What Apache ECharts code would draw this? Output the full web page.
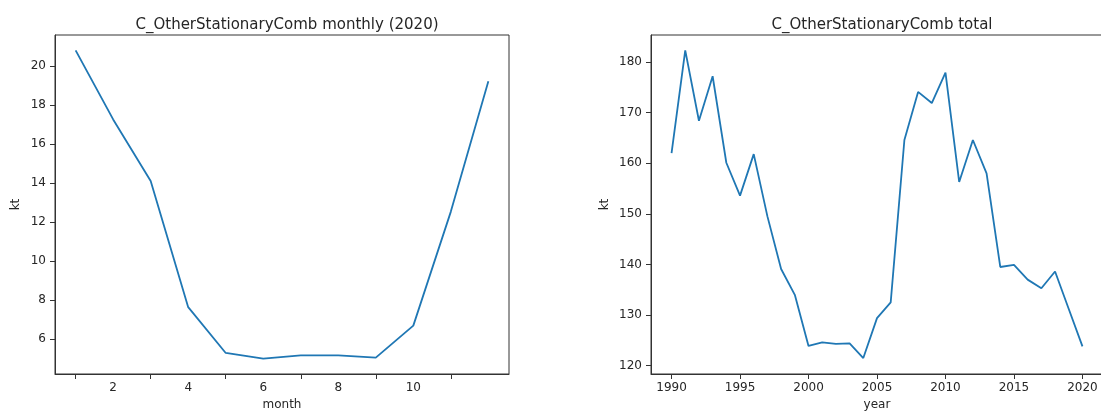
<!DOCTYPE html>
<html>
<head>
<meta charset="utf-8">
<script src="https://cdn.jsdelivr.net/npm/echarts@6/dist/echarts.min.js"></script>
<style>
html,body{margin:0;padding:0;background:#fff;}
#c{width:1101px;height:411px;}
</style>
</head>
<body>
<div id="c"></div>
<script>
// ---- data ----
const months = [1,2,3,4,5,6,7,8,9,10,11,12];
const monthlyKt = [20.80,17.26,14.10,7.63,5.28,4.99,5.16,5.16,5.04,6.68,12.53,19.22];
const years = [1990,1991,1992,1993,1994,1995,1996,1997,1998,1999,2000,2001,2002,2003,2004,2005,2006,2007,2008,2009,2010,2011,2012,2013,2014,2015,2016,2017,2018,2019,2020];
const totalKt = [162.0,182.3,168.4,177.2,160.1,153.6,161.8,149.5,139.1,134.0,123.9,124.6,124.3,124.4,121.5,129.4,132.5,164.6,174.1,171.9,177.9,156.3,164.6,158.0,139.5,139.9,137.0,135.3,138.6,131.2,123.8];
const monthTickMarks = [1,3,5,7,9,11];
const monthTickLabels = [2,4,6,8,10];
const monthlyYTicks = [6,8,10,12,14,16,18,20];
const yearTicks = [1990,1995,2000,2005,2010,2015,2020];
const totalYTicks = [120,130,140,150,160,170,180];

const FONT = 'DejaVu Sans';
const TXT = '#262626';
const AX = '#333';

function xAxisCfg(gridIndex, min, max, tickVals, labelVals, name) {
  return {
    type: 'value', gridIndex, min, max, name,
    nameLocation: 'middle', nameGap: 25,
    nameTextStyle: {fontFamily: FONT, fontSize: 12, color: TXT},
    axisLine: {show: true, onZero: false, lineStyle: {color: AX, width: 1}},
    axisTick: {show: true, inside: false, length: 5, customValues: tickVals, lineStyle: {color: AX, width: 1}},
    axisLabel: {customValues: labelVals, margin: 8, fontFamily: FONT, fontSize: 12, color: TXT,
                formatter: v => String(v)},
    splitLine: {show: false}
  };
}
function yAxisCfg(gridIndex, min, max, vals, gap) {
  return {
    type: 'value', gridIndex, min, max, name: 'kt',
    nameLocation: 'middle', nameGap: gap, nameRotate: 90,
    nameTextStyle: {fontFamily: FONT, fontSize: 12, color: TXT},
    axisLine: {show: true, lineStyle: {color: AX, width: 1}},
    axisTick: {show: true, inside: false, length: 5, customValues: vals, lineStyle: {color: AX, width: 1}},
    axisLabel: {customValues: vals, margin: 9, fontFamily: FONT, fontSize: 12, color: TXT,
                formatter: v => String(v)},
    splitLine: {show: false}
  };
}

const chart = echarts.init(document.getElementById('c'), null, {renderer: 'canvas'});
chart.setOption({
  animation: false,
  backgroundColor: '#fff',
  title: [
    {text: 'C_OtherStationaryComb monthly (2020)', left: 282, top: 13, textAlign: 'center',
     textStyle: {fontFamily: FONT, fontSize: 15, fontWeight: 'normal', color: TXT}},
    {text: 'C_OtherStationaryComb total', left: 877, top: 13, textAlign: 'center',
     textStyle: {fontFamily: FONT, fontSize: 15, fontWeight: 'normal', color: TXT}}
  ],
  grid: [
    {left: 55, width: 454, top: 35, bottom: 37, outerBoundsMode: 'none', containLabel: false,
     show: true, borderColor: AX, borderWidth: 1, backgroundColor: 'transparent'},
    {left: 651, width: 452, top: 35, bottom: 37, outerBoundsMode: 'none', containLabel: false,
     show: true, borderColor: AX, borderWidth: 1, backgroundColor: 'transparent'}
  ],
  xAxis: [
    xAxisCfg(0, 0.45, 12.55, monthTickMarks, monthTickLabels, 'month'),
    xAxisCfg(1, 1988.5, 2021.5, yearTicks, yearTicks, 'year')
  ],
  yAxis: [
    yAxisCfg(0, 4.20, 21.59, monthlyYTicks, 33),
    yAxisCfg(1, 118.35, 185.35, totalYTicks, 40)
  ],
  series: [
    {type: 'line', xAxisIndex: 0, yAxisIndex: 0, data: months.map((m, i) => [m, monthlyKt[i]]),
     showSymbol: false, lineStyle: {color: '#1f77b4', width: 1.8}, itemStyle: {color: '#1f77b4'}},
    {type: 'line', xAxisIndex: 1, yAxisIndex: 1, data: years.map((y, i) => [y, totalKt[i]]),
     showSymbol: false, lineStyle: {color: '#1f77b4', width: 1.8}, itemStyle: {color: '#1f77b4'}}
  ]
});
</script>
</body>
</html>
